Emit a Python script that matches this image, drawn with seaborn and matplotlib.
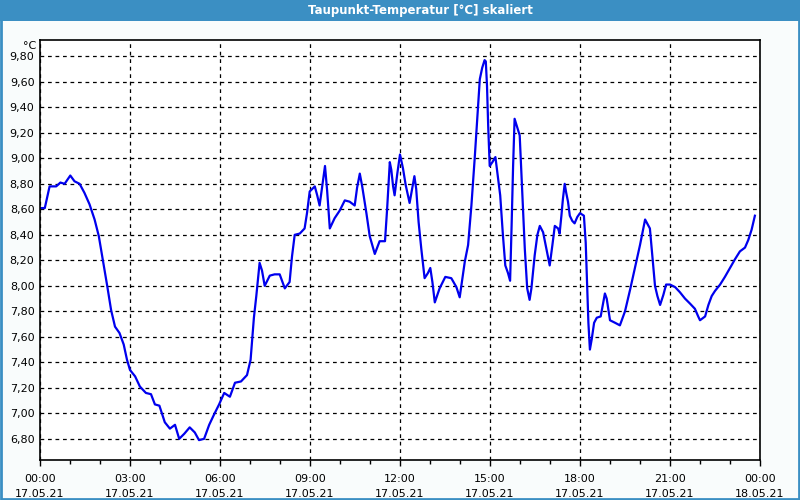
import matplotlib
matplotlib.use("Agg")
import matplotlib.pyplot as plt
from matplotlib.patches import Rectangle
import seaborn as sns
import pandas as pd

# ---- data (hours since 17.05.21 00:00, dew point in °C) ----
hours = [
    0.0, 0.16, 0.32, 0.54, 0.68, 0.82, 1.01, 1.15, 1.32, 1.48, 1.65, 1.82, 1.96,
    2.09, 2.24, 2.37, 2.50, 2.65, 2.79, 2.90, 3.0, 3.17, 3.33, 3.53, 3.70, 3.83,
    3.98, 4.16, 4.33, 4.50, 4.64, 4.81, 4.99, 5.16, 5.30, 5.47, 5.64, 5.80, 5.97,
    6.14, 6.33, 6.50, 6.70, 6.90, 7.02, 7.13, 7.21, 7.32, 7.40, 7.49, 7.66, 7.82,
    7.99, 8.16, 8.32, 8.40, 8.49, 8.66, 8.82, 8.90, 8.99, 9.16, 9.24, 9.32, 9.40,
    9.50, 9.57, 9.66, 9.82, 9.99, 10.16, 10.32, 10.49, 10.57, 10.66, 10.74, 10.88,
    10.99, 11.16, 11.32, 11.50, 11.57, 11.66, 11.71, 11.77, 11.82, 11.91, 12.0,
    12.10, 12.19, 12.32, 12.41, 12.48, 12.54, 12.62, 12.71, 12.82, 12.93, 13.01,
    13.08, 13.16, 13.32, 13.51, 13.71, 13.88, 13.99, 14.16, 14.27, 14.38, 14.49,
    14.58, 14.66, 14.74, 14.82, 14.86, 14.90, 14.94, 14.99, 15.08, 15.18, 15.27,
    15.34, 15.43, 15.51, 15.60, 15.67, 15.72, 15.77, 15.82, 15.90, 15.99, 16.07,
    16.16, 16.24, 16.32, 16.38, 16.49, 16.58, 16.66, 16.77, 16.88, 16.99, 17.08,
    17.16, 17.27, 17.32, 17.38, 17.43, 17.49, 17.54, 17.60, 17.66, 17.74, 17.82,
    17.91, 18.0, 18.13, 18.19, 18.24, 18.28, 18.33, 18.39, 18.47, 18.56, 18.69,
    18.76, 18.83, 18.89, 19.0, 19.17, 19.33, 19.50, 19.67, 19.83, 20.0, 20.17,
    20.33, 20.42, 20.50, 20.58, 20.67, 20.78, 20.87, 21.0, 21.17, 21.33, 21.50,
    21.67, 21.83, 21.94, 22.0, 22.17, 22.28, 22.39, 22.50, 22.67, 22.83, 23.0,
    23.17, 23.33, 23.50, 23.61, 23.72, 23.83,
]
dewpoint = [
    8.61, 8.61, 8.78, 8.78, 8.81, 8.80, 8.865, 8.82, 8.80, 8.73, 8.64, 8.52, 8.39,
    8.21, 8.00, 7.81, 7.68, 7.63, 7.54, 7.42, 7.34, 7.29, 7.21, 7.16, 7.15, 7.07,
    7.06, 6.93, 6.88, 6.91, 6.80, 6.84, 6.89, 6.85, 6.79, 6.80, 6.91, 6.99, 7.07,
    7.16, 7.13, 7.24, 7.25, 7.30, 7.42, 7.75, 7.92, 8.18, 8.12, 8.00, 8.08, 8.09,
    8.09, 7.98, 8.03, 8.23, 8.40, 8.41, 8.45, 8.57, 8.74, 8.78, 8.71, 8.63, 8.77,
    8.94, 8.75, 8.45, 8.53, 8.59, 8.67, 8.66, 8.63, 8.77, 8.88, 8.78, 8.57,
    8.39, 8.25, 8.35, 8.35, 8.60, 8.97, 8.91, 8.78, 8.71, 8.88, 9.03,
    8.92, 8.79, 8.65, 8.77, 8.86, 8.76, 8.50, 8.29, 8.06, 8.10, 8.14,
    8.03, 7.87, 7.98, 8.07, 8.06, 7.99, 7.91, 8.19, 8.32, 8.63, 9.00,
    9.33, 9.62, 9.71, 9.77, 9.76, 9.57, 9.25, 8.94, 8.97, 9.01, 8.84,
    8.71, 8.40, 8.16, 8.10, 8.04, 8.47, 8.94, 9.31, 9.25, 9.18, 8.76,
    8.29, 7.98, 7.89, 7.98, 8.24, 8.40, 8.47, 8.42, 8.29, 8.16, 8.32,
    8.47, 8.45, 8.41, 8.55, 8.68, 8.80, 8.73, 8.66, 8.55, 8.51, 8.49,
    8.54, 8.57, 8.55, 8.34, 8.00, 7.71, 7.50, 7.58, 7.71, 7.75, 7.76,
    7.85, 7.94, 7.90, 7.73, 7.71, 7.69, 7.80, 7.97, 8.14, 8.32, 8.52,
    8.45, 8.21, 8.00, 7.92, 7.85, 7.93, 8.01, 8.01, 7.99, 7.95, 7.90,
    7.86, 7.82, 7.76, 7.73, 7.76, 7.85, 7.92, 7.96, 8.01, 8.07, 8.14,
    8.21, 8.27, 8.30, 8.36, 8.44, 8.55,
]
x_ticks = [0, 3, 6, 9, 12, 15, 18, 21, 24]
x_tick_labels = [
    "00:00\n17.05.21", "03:00\n17.05.21", "06:00\n17.05.21", "09:00\n17.05.21",
    "12:00\n17.05.21", "15:00\n17.05.21", "18:00\n17.05.21", "21:00\n17.05.21",
    "00:00\n18.05.21",
]
y_ticks = [6.8, 7.0, 7.2, 7.4, 7.6, 7.8, 8.0, 8.2, 8.4, 8.6, 8.8, 9.0, 9.2, 9.4, 9.6, 9.8]
y_tick_labels = [f"{v:.2f}".replace(".", ",") for v in y_ticks]
title = "Taupunkt-Temperatur [°C] skaliert"

df = pd.DataFrame({"Stunde": hours, "Taupunkt": dewpoint})

plt.rcParams["font.family"] = ["DejaVu Sans"]

BLUE_BAR = "#3b8fc3"
fig = plt.figure(figsize=(8, 5), dpi=100, facecolor="#f9fcfc")
ax = fig.add_axes([0.05, 0.08, 0.90, 0.84])
ax.set_facecolor("white")

sns.lineplot(data=df, x="Stunde", y="Taupunkt", ax=ax, color="#0000ee",
             linewidth=1.6, estimator=None, sort=False)

ax.set_xlim(0, 24)
ax.set_ylim(6.634, 9.928)
ax.set_xticks(x_ticks)
ax.set_xticklabels(x_tick_labels, fontsize=8, linespacing=1.6)
ax.set_xticks(range(0, 25), minor=True)
ax.set_yticks(y_ticks)
ax.set_yticklabels(y_tick_labels, fontsize=8)
ax.tick_params(axis="x", which="major", direction="out", length=4, width=1, pad=6, colors="black")
ax.tick_params(axis="x", which="minor", direction="out", length=3, width=1)
ax.tick_params(axis="y", which="major", length=0, pad=4)
ax.set_xlabel("")
ax.set_ylabel("")
ax.grid(True, which="major", color="black", linestyle=(0, (3, 3)), linewidth=0.9)
for s in ax.spines.values():
    s.set_color("black")
    s.set_linewidth(1.2)

# unit label above y-axis
fig.text(36 / 800, 1 - 46 / 500, "°C", ha="right", va="center", fontsize=8)

# title bar
fig.patches.append(Rectangle((0, 1 - 21 / 500), 1, 21 / 500, transform=fig.transFigure,
                             facecolor=BLUE_BAR, edgecolor="none", zorder=0))
fig.text(420 / 800, 1 - 10.5 / 500, title, ha="center", va="center", fontsize=8.5,
         fontweight="bold", color="white")
# window border
fig.patches.append(Rectangle((0.001, 0.002), 0.998, 0.996, transform=fig.transFigure,
                             facecolor="none", edgecolor=BLUE_BAR, linewidth=2, zorder=0))

fig.savefig("out.png", dpi=100, facecolor=fig.get_facecolor())
